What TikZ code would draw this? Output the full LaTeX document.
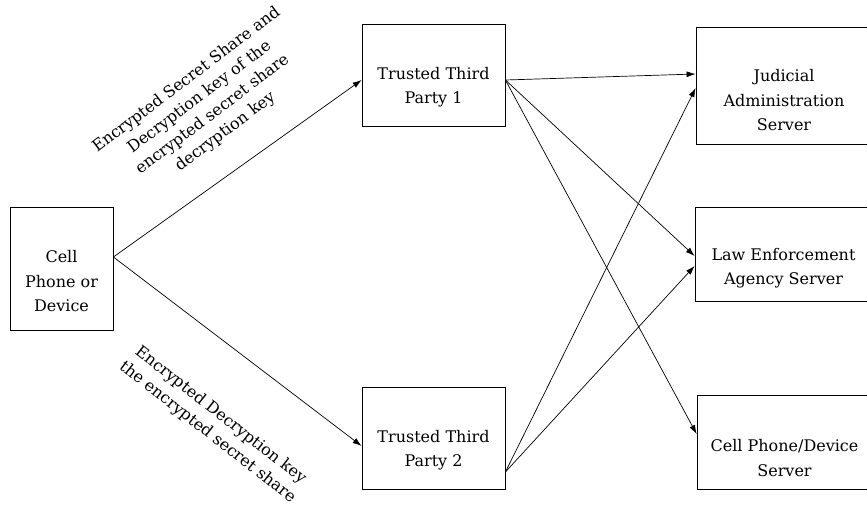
\documentclass[tikz,border=0pt]{standalone}
\usepackage{fontspec}
\setmainfont{DejaVu Serif}
\usetikzlibrary{arrows.meta}
\begin{document}
\begin{tikzpicture}[x=1pt,y=-1pt,
  box/.style={draw, line width=0.8pt, inner sep=0pt},
  boxtext/.style={align=center, inner sep=0pt, font=\fontsize{16}{24.5}\selectfont},
  arr/.style={-{Latex[length=9pt,width=6pt]}, line width=0.7pt},
  lbl/.style={align=center, inner sep=0pt, font=\fontsize{16}{21.5}\selectfont}]
\useasboundingbox (0,0) rectangle (867,506);
\node[box, minimum width=103pt, minimum height=123pt] (cell) at (61.5,268.5) {};
\node[boxtext] (cellt) at ([yshift=-13pt]cell.center) {Cell\\Phone or\\Device};
\node[box, minimum width=143pt, minimum height=102pt] (t1) at (433.5,75) {};
\node[boxtext] (t1t) at ([yshift=-12pt]t1.center) {Trusted Third\\Party 1};
\node[box, minimum width=143pt, minimum height=102pt] (t2) at (433.5,438) {};
\node[boxtext] (t2t) at ([yshift=-12pt]t2.center) {Trusted Third\\Party 2};
\node[box, minimum width=176pt, minimum height=117pt] (jud) at (784,85.5) {};
\node[boxtext] (judt) at ([yshift=-15pt]jud.center) {Judicial\\Administration\\Server};
\node[box, minimum width=177pt, minimum height=94pt] (law) at (783.5,254) {};
\node[boxtext] (lawt) at ([yshift=-14pt]law.center) {Law Enforcement\\Agency Server};
\node[box, minimum width=175pt, minimum height=94pt] (srv) at (784.5,442) {};
\node[boxtext] (srvt) at ([yshift=-16pt]srv.center) {Cell Phone/Device\\Server};
\draw[arr] ([yshift=11.5pt]cell.east) -- ([yshift=-5pt]t1.west);
\draw[arr] ([yshift=11.5pt]cell.east) -- ([yshift=-8pt]t2.west);
\draw[arr] ([yshift=-5pt]t1.east) -- ([yshift=11.5pt]jud.west);
\draw[arr] ([yshift=-5pt]t1.east) -- ([yshift=-2pt]law.west);
\draw[arr] ([yshift=-5pt]t1.east) -- ([yshift=8pt]srv.west);
\draw[arr] ([yshift=-34pt]t2.east) -- ([yshift=-2.5pt]jud.west);
\draw[arr] ([yshift=-34pt]t2.east) -- ([yshift=-12pt]law.west);
\node[lbl, rotate=37] (l1) at (206,106) {Encrypted Secret Share and\\Decryption key of the\\encrypted secret share\\decryption key};
\node[lbl, rotate=-38] (l2) at (214,424) {Encrypted Decryption key\\the encrypted secret share};
\end{tikzpicture}
\end{document}
